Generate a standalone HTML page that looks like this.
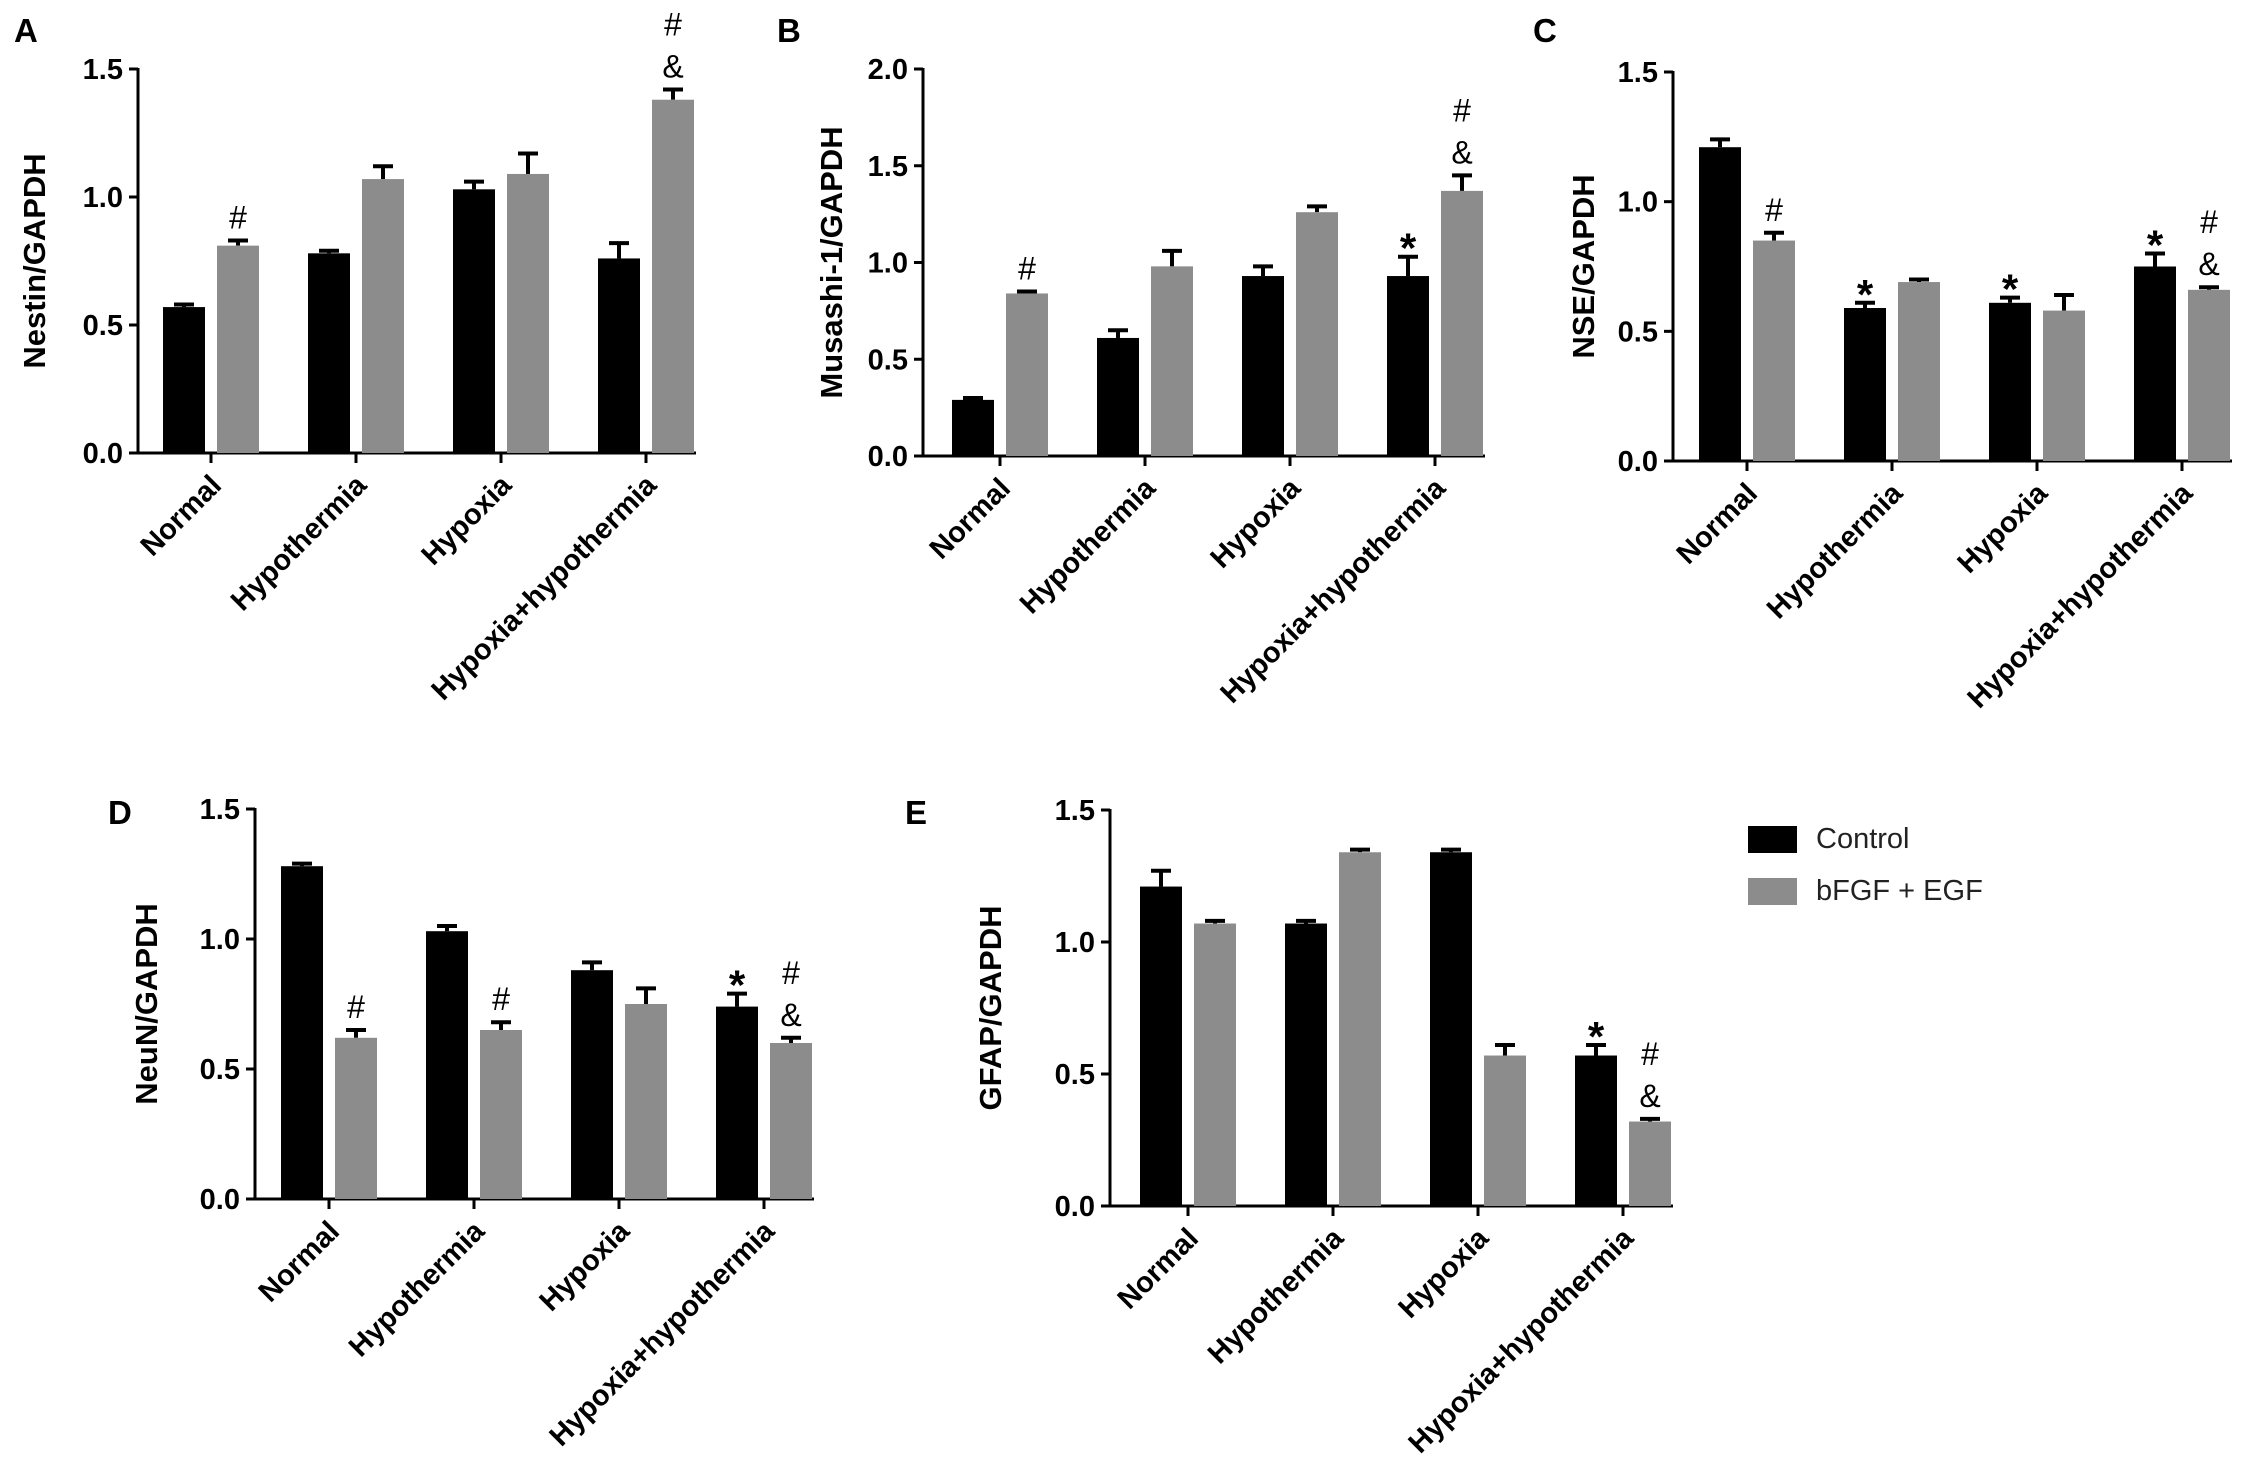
<!DOCTYPE html>
<html><head><meta charset="utf-8"><style>
body{margin:0;background:#fff;}
svg{display:block;font-family:"Liberation Sans",Arial,sans-serif;}
</style></head><body>
<svg id="fig" width="2268" height="1465" viewBox="0 0 2268 1465" xmlns="http://www.w3.org/2000/svg"></svg>
<script>
const categories = ["Normal","Hypothermia","Hypoxia","Hypoxia+hypothermia"];
const seriesNames = ["Control","bFGF + EGF"];
const nestinControl = [0.57,0.78,1.03,0.76];
const nestinControlErr = [0.01,0.01,0.03,0.06];
const nestinGF = [0.81,1.07,1.09,1.38];
const nestinGFErr = [0.02,0.05,0.08,0.04];
const musashiControl = [0.29,0.61,0.93,0.93];
const musashiControlErr = [0.01,0.04,0.05,0.10];
const musashiGF = [0.84,0.98,1.26,1.37];
const musashiGFErr = [0.01,0.08,0.03,0.08];
const nseControl = [1.21,0.59,0.61,0.75];
const nseControlErr = [0.03,0.02,0.02,0.05];
const nseGF = [0.85,0.69,0.58,0.66];
const nseGFErr = [0.03,0.01,0.06,0.01];
const neunControl = [1.28,1.03,0.88,0.74];
const neunControlErr = [0.01,0.02,0.03,0.05];
const neunGF = [0.62,0.65,0.75,0.60];
const neunGFErr = [0.03,0.03,0.06,0.02];
const gfapControl = [1.21,1.07,1.34,0.57];
const gfapControlErr = [0.06,0.01,0.01,0.04];
const gfapGF = [1.07,1.34,0.57,0.32];
const gfapGFErr = [0.01,0.01,0.04,0.01];
const ticks15 = ["0.0","0.5","1.0","1.5"];
const ticks20 = ["0.0","0.5","1.0","1.5","2.0"];
// annotations: [categoryIndex, seriesIndex, lines]
const nestinMarks = [[0,1,["#"]],[3,1,["#","&"]]];
const musashiMarks = [[0,1,["#"]],[3,0,["*"]],[3,1,["#","&"]]];
const nseMarks = [[0,1,["#"]],[1,0,["*"]],[2,0,["*"]],[3,0,["*"]],[3,1,["#","&"]]];
const neunMarks = [[0,1,["#"]],[1,1,["#"]],[3,0,["*"]],[3,1,["#","&"]]];
const gfapMarks = [[3,0,["*"]],[3,1,["#","&"]]];

const NS="http://www.w3.org/2000/svg";
const svg=document.getElementById('fig');
function mk(tag,attrs,parent,text){
  const e=document.createElementNS(NS,tag);
  for(const k in attrs)e.setAttribute(k,attrs[k]);
  if(text!==undefined)e.textContent=text;
  (parent||svg).appendChild(e);return e;
}
function panel(p){
  const g=mk('g',{});
  
  
  const ymax=parseFloat(p.ticks[p.ticks.length-1]);
  const y=v=>p.y0-(p.y0-p.yTop)*v/ymax;
  const x=i=>p.x0+p.first+i*145;
  const lt=mk('text',{x:p.letter[0],y:p.letter[1],'font-size':33,'font-weight':'bold'},g,p.id);
  
  
  const yt=mk('text',{x:0,y:0,'font-size':31,'font-weight':'bold','text-anchor':'middle',transform:`translate(${p.ytx+4},${(p.y0+p.yTop)/2}) rotate(-90)`},g,p.ytitle);
  
  
  const ya=mk('line',{x1:p.x0,y1:p.yTop-1,x2:p.x0,y2:p.y0,stroke:'#000','stroke-width':3},g);
  
  
  const xa=mk('line',{x1:p.x0-9,y1:p.y0,x2:p.x0+p.first+3*145+50,y2:p.y0,stroke:'#000','stroke-width':3},g);
  
  
  p.ticks.forEach(t=>{
    const v=parseFloat(t),yy=y(v);
    mk('line',{x1:p.x0-9,y1:yy,x2:p.x0,y2:yy,stroke:'#000','stroke-width':3},g);
    const tl=mk('text',{x:p.x0-15,y:yy+10,'font-size':29,'font-weight':'bold','text-anchor':'end'},g,t);
    
    
  });
  categories.forEach((c,i)=>{
    const cx=x(i);
    mk('line',{x1:cx,y1:p.y0,x2:cx,y2:p.y0+10,stroke:'#000','stroke-width':3},g);
    const xl=mk('text',{x:0,y:0,'font-size':29,'font-weight':'bold','text-anchor':'end',transform:`translate(${cx+12},${p.y0+34}) rotate(-45)`},g,c);
    
    
  });
  const series=[[p.c,p.ce,'#000'],[p.g,p.ge,'#8c8c8c']];
  series.forEach((s,si)=>{
    s[0].forEach((v,i)=>{
      const cx=x(i)+(si?27:-27);
      const top=y(v),et=y(v+s[1][i]);
      mk('line',{x1:cx,y1:top,x2:cx,y2:et,stroke:'#000','stroke-width':4},g);
      mk('line',{x1:cx-10,y1:et,x2:cx+10,y2:et,stroke:'#000','stroke-width':4},g);
      const b=mk('rect',{x:cx-21,y:top,width:42,height:p.y0-top,fill:s[2]},g);
      
      
    });
  });
  p.marks.forEach(m=>{
    const [i,si,lines]=m;
    const arr=si?p.g:p.c, err=si?p.ge:p.ce;
    const cx=x(i)+(si?27:-27);
    let base=y(arr[i]+err[i])-12;
    for(let k=lines.length-1;k>=0;k--){
      const s=lines[k];
      const a=mk('text',{x:cx,y:s==='*'?base+18:base,'font-size':s==='*'?42:32,'font-weight':s==='*'?'bold':'normal','text-anchor':'middle'},g,s);
      
      
      base-=42;
    }
  });
}
panel({id:'A',x0:138,y0:453,yTop:69,first:73,ticks:ticks15,ytitle:'Nestin/GAPDH',ytx:41,letter:[14,42],c:nestinControl,ce:nestinControlErr,g:nestinGF,ge:nestinGFErr,marks:nestinMarks});
panel({id:'B',x0:923,y0:456,yTop:69,first:77,ticks:ticks20,ytitle:'Musashi-1/GAPDH',ytx:838,letter:[777,42],c:musashiControl,ce:musashiControlErr,g:musashiGF,ge:musashiGFErr,marks:musashiMarks});
panel({id:'C',x0:1673,y0:461,yTop:72,first:74,ticks:ticks15,ytitle:'NSE/GAPDH',ytx:1590,letter:[1533,42],c:nseControl,ce:nseControlErr,g:nseGF,ge:nseGFErr,marks:nseMarks});
panel({id:'D',x0:255,y0:1199,yTop:809,first:74,ticks:ticks15,ytitle:'NeuN/GAPDH',ytx:153,letter:[108,824],c:neunControl,ce:neunControlErr,g:neunGF,ge:neunGFErr,marks:neunMarks});
panel({id:'E',x0:1110,y0:1206,yTop:810,first:78,ticks:ticks15,ytitle:'GFAP/GAPDH',ytx:997,letter:[905,824],c:gfapControl,ce:gfapControlErr,g:gfapGF,ge:gfapGFErr,marks:gfapMarks});

const lg=mk('g',{});


[['#000',826,848],['#8c8c8c',878,900]].forEach((l,i)=>{
  const r=mk('rect',{x:1748,y:l[1],width:49,height:27,fill:l[0]},lg);
  
  
  const t=mk('text',{x:1816,y:l[2],'font-size':29,fill:'#222'},lg,seriesNames[i]);
  
  
});
</script>
</body></html>
